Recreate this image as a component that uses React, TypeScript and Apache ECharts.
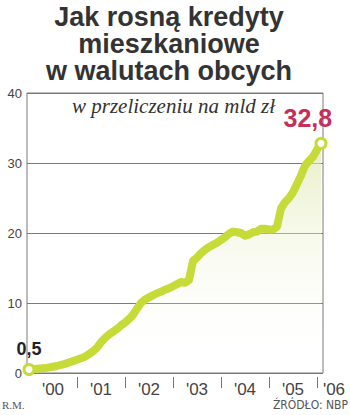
import React, { useEffect, useRef } from "react";
import * as echarts from "echarts";

// Monthly values, Jan 2000 .. Feb 2006 (mld zł)
const values: number[] = [
  0.5, 0.55, 0.6, 0.65, 0.7, 0.8, 0.9, 1.0, 1.15, 1.3, 1.5, 1.7,
  1.9, 2.1, 2.35, 2.7, 3.1, 3.6, 4.4, 5.0, 5.5, 5.9, 6.3, 6.8,
  7.2, 7.7, 8.3, 9.2, 10.0, 10.5, 10.8, 11.1, 11.4, 11.6, 11.9, 12.1,
  12.4, 12.7, 13.0, 12.9, 13.3, 16.0, 16.5, 17.1, 17.6, 18.0, 18.3, 18.6,
  19.0, 19.4, 19.9, 20.2, 20.1, 20.0, 19.6, 19.8, 20.1, 20.2, 20.6, 20.6,
  20.5, 20.5, 20.9, 23.5, 24.4, 25.0, 25.8, 27.0, 28.2, 29.6, 30.3, 30.9,
  31.9, 32.8,
];
const months: string[] = values.map((_, i) => String(i));
const yearLabels: string[] = ["'00", "'01", "'02", "'03", "'04", "'05", "'06"];
const yTicks = { min: 0, max: 40, interval: 10 };

const titleLines = ["Jak rosną kredyty", "mieszkaniowe", "w walutach obcych"];
const subtitle = "w przeliczeniu na mld zł";
const author = "R.M.";
const source = "ŹRÓDŁO: NBP";

export default function App() {
  const ref = useRef<HTMLDivElement>(null);
  useEffect(() => {
    document.body.style.margin = "0";
    const chart = echarts.init(ref.current!, null, { renderer: "svg" });
    const green = "#c6da38";
    const last = values.length - 1;
    const data = values.map((v, i) => {
      if (i === 0) {
        return {
          value: v,
          symbol: "circle",
          symbolSize: 10,
          itemStyle: { color: "#ffffff", borderColor: green, borderWidth: 3 },
          label: {
            show: true,
            position: "top",
            distance: 5,
            formatter: (p: any) => String(p.value).replace(".", ","),
            fontFamily: "Liberation Sans",
            fontWeight: "bold",
            fontSize: 18,
            color: "#222222",
          },
        };
      }
      if (i === last) {
        return {
          value: v,
          symbol: "circle",
          symbolSize: 10,
          itemStyle: { color: "#ffffff", borderColor: green, borderWidth: 3 },
          label: {
            show: true,
            position: [-31, -31],
            align: "left",
            verticalAlign: "top",
            formatter: (p: any) => String(p.value).replace(".", ","),
            fontFamily: "Liberation Sans",
            fontWeight: "bold",
            fontSize: 25,
            color: "#c4305a",
          },
        };
      }
      return { value: v, symbol: "none", label: { show: false } };
    });

    const labelIdx = (i: number) => (i === last ? 6 : (i - 6) / 12);

    chart.setOption({
      animation: false,
      backgroundColor: "#ffffff",
      grid: {
        left: 27,
        right: 27,
        top: 93,
        bottom: 42,
        show: true,
        borderColor: "#7a7a7a",
        borderWidth: 1,
        backgroundColor: "transparent",
      },
      graphic: [
        {
          type: "text",
          x: 169,
          y: 3,
          style: {
            text: titleLines.join("\n"),
            font: "bold 27px 'Liberation Sans'",
            lineHeight: 27,
            align: "center",
            verticalAlign: "top",
            fill: "#333333",
          },
        },
        {
          type: "text",
          left: 72,
          top: 95,
          style: {
            text: subtitle,
            font: "italic 21px 'Liberation Serif'",
            fill: "#333333",
          },
        },
        {
          type: "text",
          left: 2,
          top: 399,
          style: {
            text: author,
            font: "11px 'Liberation Serif'",
            fill: "#555555",
          },
        },
        {
          type: "text",
          right: 2,
          top: 399,
          style: {
            text: source,
            font: "12px 'DejaVu Sans Condensed', 'Liberation Sans Narrow', sans-serif",
            fill: "#555555",
          },
        },
      ],
      xAxis: [
        {
          type: "category",
          data: months,
          boundaryGap: true,
          axisLine: { show: false },
          axisTick: { show: false },
          axisLabel: { show: false },
          splitLine: { show: false },
        },
        {
          type: "category",
          data: months,
          boundaryGap: true,
          position: "bottom",
          offset: 4,
          axisLine: { show: false },
          axisTick: {
            show: true,
            alignWithLabel: true,
            length: 11,
            interval: (i: number) => i > 0 && i % 12 === 0,
            lineStyle: { color: "#777777", width: 1 },
          },
          axisLabel: {
            show: true,
            interval: (i: number) => (i >= 6 && (i - 6) % 12 === 0 && i < 72) || i === last,
            margin: 4,
            formatter: (v: string, i: number) => {
              const k = labelIdx(i);
              if (i === last) return "{s|" + yearLabels[k] + "}";
              return yearLabels[k];
            },
            fontFamily: "Liberation Sans",
            fontSize: 17,
            color: "#444444",
            rich: {
              s: {
                padding: [0, 0, 0, 26],
                fontFamily: "Liberation Sans",
                fontSize: 17,
                color: "#444444",
              },
            },
          },
          splitLine: { show: false },
        },
      ],
      yAxis: {
        type: "value",
        min: yTicks.min,
        max: yTicks.max,
        interval: yTicks.interval,
        axisLine: { show: false },
        axisTick: { show: false },
        axisLabel: {
          margin: 5,
          fontFamily: "Liberation Sans",
          fontSize: 13,
          color: "#444444",
        },
        splitLine: { show: true, lineStyle: { color: "#7a7a7a", width: 1 } },
      },
      series: [
        {
          type: "line",
          xAxisIndex: 0,
          data,
          showSymbol: true,
          showAllSymbol: true,
          smooth: false,
          lineStyle: { color: green, width: 8, cap: "round", join: "round" },
          itemStyle: { color: green },
          labelLayout: { hideOverlap: false },
          areaStyle: {
            color: new echarts.graphic.LinearGradient(0, 0, 0, 1, [
              { offset: 0, color: "rgba(222,230,170,0.95)" },
              { offset: 1, color: "rgba(255,255,255,0)" },
            ]),
          },
          z: 5,
        },
      ],
    });
    return () => chart.dispose();
  }, []);
  return (
    <div
      ref={ref}
      style={{ width: 350, height: 415, position: "absolute", left: 0, top: 0 }}
    />
  );
}
